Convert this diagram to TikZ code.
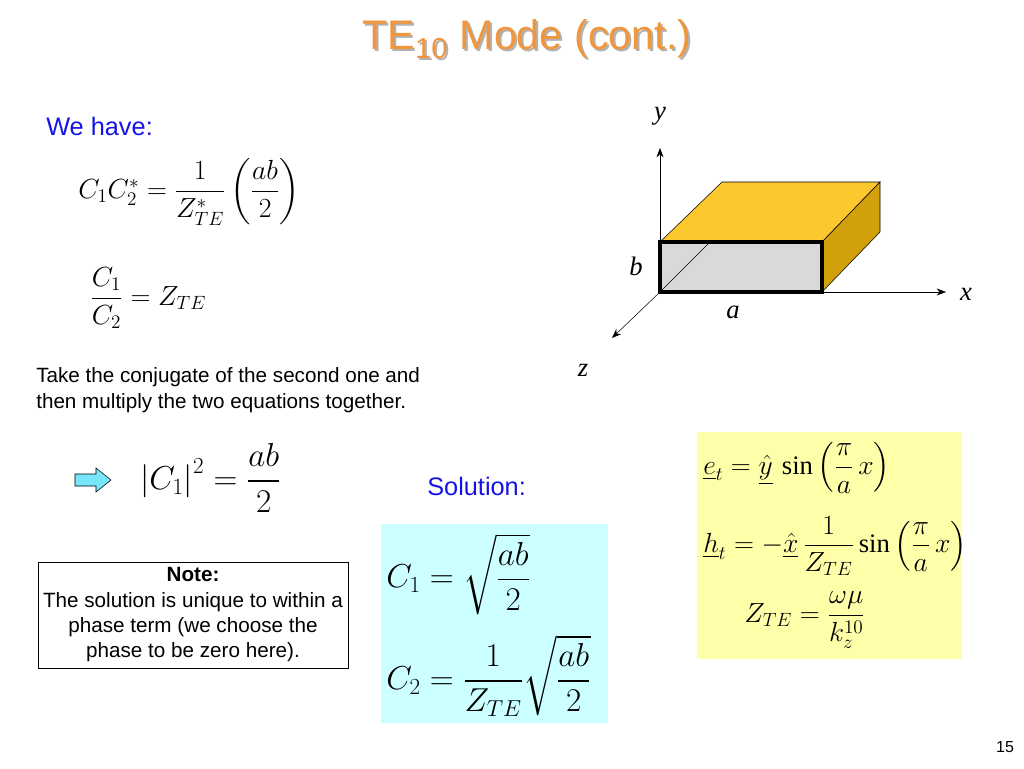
\documentclass[tikz,border=0pt]{standalone}
\usepackage{fontspec}
\setmainfont{Liberation Serif}
\setsansfont{Liberation Sans}
\usepackage{amsmath}
\usetikzlibrary{arrows.meta}
\definecolor{ttl}{RGB}{240,150,60}
\definecolor{ylw}{RGB}{255,255,170}
\definecolor{cyn}{RGB}{204,255,255}
\definecolor{arc}{RGB}{120,230,250}
\definecolor{gold}{RGB}{252,200,46}
\definecolor{dgold}{RGB}{210,160,10}
\definecolor{blu}{RGB}{20,20,230}
\begin{document}
\begin{tikzpicture}[x=0.75pt,y=-0.75pt,
  eq/.style={inner sep=0pt,font=\fontsize{22}{26}\selectfont},
  txt/.style={inner sep=0pt,font=\sffamily\fontsize{15.5}{19}\selectfont,align=left},
  axis/.style={-{Stealth[length=7pt]},thin}]
\useasboundingbox (0,0) rectangle (1024,768);
\fill[white] (0,0) rectangle (1024,768);
% title
\node[font=\sffamily\fontsize{31}{36}\selectfont,text=gray!60] (ts) at (529,41) {TE$_{\text{10}}$ Mode (cont.)};
\node[font=\sffamily\fontsize{31}{36}\selectfont,text=ttl] (title) at (527,39) {TE$_{\text{10}}$ Mode (cont.)};
\node[txt,anchor=west,text=blu,font=\sffamily\fontsize{19}{22}\selectfont] (wh) at (46,126) {We have:};
\node[eq,anchor=west] (e1) at (78,192) {$C_1C_2^{*}=\dfrac{1}{Z_{TE}^{*}}\left(\dfrac{ab}{2}\right)$};
\node[eq,anchor=west] (e2) at (90,298) {$\dfrac{C_1}{C_2}=Z_{TE}$};
\node[txt,anchor=west] (take) at (36,390) {Take the conjugate of the second one and\\then multiply the two equations together.};
\filldraw[fill=arc,draw=black] (75,474) -- (96,474) -- (96,468) -- (111,480) -- (96,492) -- (96,486) -- (75,486) -- cycle;
\node[eq,anchor=west,font=\fontsize{24}{28}\selectfont] (e3) at (140,478) {$\left|C_1\right|^2=\dfrac{ab}{2}$};
\node[txt,anchor=west,text=blu,font=\sffamily\fontsize{19}{22}\selectfont] (sol) at (427,486) {Solution:};
% note
\node[draw,inner sep=0pt,minimum width=232.5pt,minimum height=79.5pt,txt,align=center] (note) at (193,615) {\textbf{Note:}\\The solution is unique to within a\\phase term (we choose the\\phase to be zero here).};
% cyan box
\fill[cyn] (381,524) rectangle (608,723);
\node[eq,anchor=west,font=\fontsize{27}{30}\selectfont] (c1) at (386,574) {$C_1=\sqrt{\dfrac{ab}{2}}$};
\node[eq,anchor=west,font=\fontsize{27}{30}\selectfont] (c2) at (386,676) {$C_2=\dfrac{1}{Z_{TE}}\sqrt{\dfrac{ab}{2}}$};
% yellow box
\fill[ylw] (697,432) rectangle (962,659);
\node[eq,anchor=west,font=\fontsize{20}{24}\selectfont] (et) at (703,468) {$\underline{e}_t=\underline{\hat{y}}\,\sin\left(\dfrac{\pi}{a}\,x\right)$};
\node[eq,anchor=west,font=\fontsize{20}{24}\selectfont] (ht) at (703,546) {$\underline{h}_t=-\underline{\hat{x}}\,\dfrac{1}{Z_{TE}}\sin\left(\dfrac{\pi}{a}\,x\right)$};
\node[eq,anchor=west,font=\fontsize{20}{24}\selectfont] (zt) at (744,620) {$Z_{TE}=\dfrac{\omega\mu}{k_z^{10}}$};
% 3D box
\coordinate (o) at (660,292);
\coordinate (ya) at (660,148);
\coordinate (xa) at (946,292);
\coordinate (za) at (612,338);
\draw[axis] (o) -- (ya);
\draw[axis] (o) -- (xa);
\draw[axis] (o) -- (za);
\fill[gold,draw=black] (660,242) -- (722,182) -- (880,182) -- (822,242) -- cycle;
\fill[dgold,draw=black] (822,242) -- (880,182) -- (880,232) -- (822,292) -- cycle;
\fill[gray!30] (660,242) rectangle (822,292);
\draw[thin] (661,291) -- (709,243);
\draw[line width=2.5pt] (660,242) rectangle (822,292);
\node[eq,font=\fontsize{20}{24}\itshape] (ly) at (660,116) {y};
\node[eq,font=\fontsize{20}{24}\itshape] (lx) at (966,294) {x};
\node[eq,font=\fontsize{20}{24}\itshape] (lz) at (583,370) {z};
\node[eq,font=\fontsize{20}{24}\itshape] (lb) at (636,266) {b};
\node[eq,font=\fontsize{20}{24}\itshape] (la) at (733,312) {a};
\node[txt,font=\sffamily\fontsize{12}{14}\selectfont] (pg) at (1005,747) {15};
\end{tikzpicture}
\end{document}
